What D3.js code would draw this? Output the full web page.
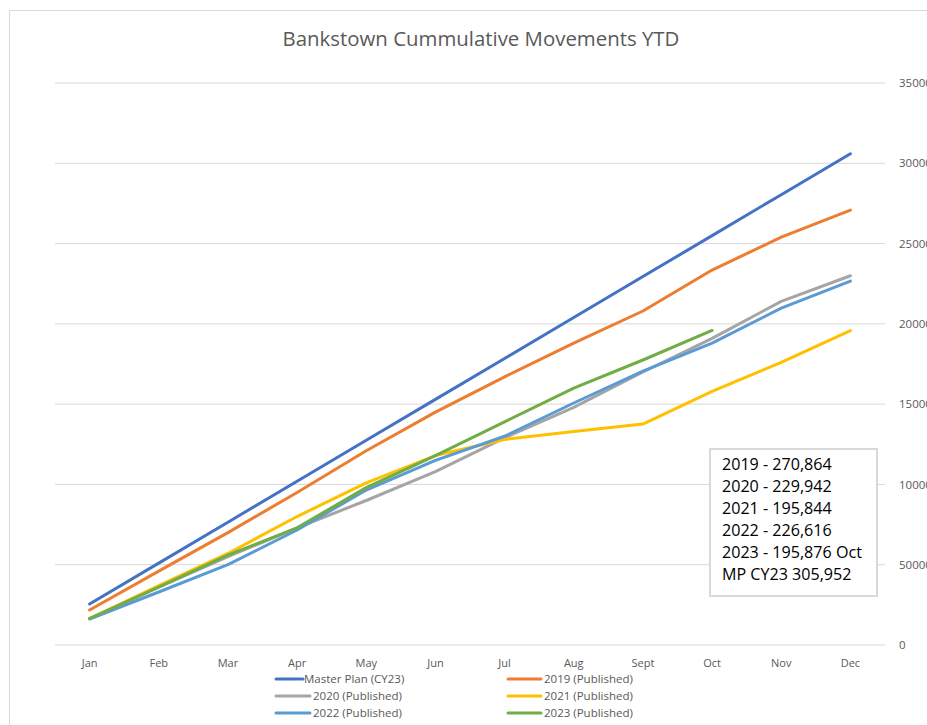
<!DOCTYPE html>
<html><head><meta charset="utf-8">
<script src="https://cdn.jsdelivr.net/npm/d3@7/dist/d3.min.js"></script>
<style>body{margin:0;background:#fff;overflow:hidden}svg{display:block}</style>
</head><body>
<svg id="c" width="927" height="725"></svg>
<script>
const months = ["Jan","Feb","Mar","Apr","May","Jun","Jul","Aug","Sept","Oct","Nov","Dec"];
const yTicks = [0,50000,100000,150000,200000,250000,300000,350000];
const masterPlan = [25496,50992,76488,101984,127480,152976,178472,203968,229464,254960,280456,305952];
const y2019 = [21800,46000,70000,95000,121000,145000,167000,188000,208000,233500,254000,270864];
const y2020 = [16500,36000,55000,73000,90000,108000,129000,148000,170000,191000,214000,229942];
const y2021 = [16500,37000,57000,80000,101000,118000,128000,133000,137600,158000,176000,195844];
const y2022 = [16200,33000,50000,71600,96500,115000,130000,150700,170600,188000,209800,226616];
const y2023 = [16500,36000,56000,73000,98000,118000,139000,160000,177500,195876];
const seriesNames = ["Master Plan (CY23)","2019 (Published)","2020 (Published)","2021 (Published)","2022 (Published)","2023 (Published)"];
const seriesColors = ["#4472C4","#ED7D31","#A5A5A5","#FFC000","#5B9BD5","#70AD47"];
const seriesData = [masterPlan,y2019,y2020,y2021,y2022,y2023];
const noteLines = ["2019 - 270,864","2020 - 229,942","2021 - 195,844","2022 - 226,616","2023 - 195,876 Oct","MP CY23 305,952"];
const title = "Bankstown Cummulative Movements YTD";

const svg = d3.select("#c");
const FONT = "'Open Sans', 'Liberation Sans', sans-serif";
svg.append("rect").attr("x",9.5).attr("y",10.5).attr("width",1000).attr("height",1000)
  .attr("fill","#fff").attr("stroke","#d9d9d9").attr("stroke-width",1);

const x = d3.scaleBand().domain(months).range([55,885]);
const y = d3.scaleLinear().domain([0,350000]).range([645,83]);

svg.append("g").selectAll("line").data(yTicks).join("line")
  .attr("x1",55).attr("x2",885).attr("y1",d=>y(d)).attr("y2",d=>y(d))
  .attr("stroke","#d9d9d9").attr("stroke-width",1);

const yAxis = d3.axisRight(y).tickValues(yTicks).tickSize(0).tickPadding(14).tickFormat(d=>String(d));
const ya = svg.append("g").attr("transform","translate(885,0)").call(yAxis);
ya.select(".domain").remove();
ya.selectAll("text").attr("fill","#595959").attr("font-size","11.5px").attr("font-family",FONT);

const xAxis = d3.axisBottom(x).tickSize(0).tickPadding(14);
const xa = svg.append("g").attr("transform","translate(0,645)").call(xAxis);
xa.select(".domain").remove();
xa.selectAll("text").attr("fill","#595959").attr("font-size","11px").attr("font-family",FONT);

const line = d3.line().x((d,i)=>x(months[i])+x.bandwidth()/2).y(d=>y(d));
seriesData.forEach((s,i)=>{
  svg.append("path").datum(s).attr("d",line).attr("fill","none")
    .attr("stroke",seriesColors[i]).attr("stroke-width",3).attr("stroke-linejoin","round").attr("stroke-linecap","round");
});

const t = svg.append("text").attr("x",481).attr("y",46).attr("text-anchor","middle")
  .attr("fill","#595959").attr("font-family",FONT).attr("font-size","17px").text(title);
function fit(sel,w){const l=sel.node().getComputedTextLength();const fs=parseFloat(sel.attr("font-size"));sel.attr("font-size",(fs*w/l)+"px");}
fit(t,397);

svg.append("rect").attr("x",710).attr("y",449).attr("width",167).attr("height",147)
  .attr("fill","#fff").attr("stroke","#d9d9d9").attr("stroke-width",2);
const nb = svg.append("g");
noteLines.forEach((s,i)=>{
  const tt = nb.append("text").attr("x",722).attr("y",470+i*22).attr("fill","#000")
    .attr("font-family",FONT).attr("font-size","14px").text(s);
  if(i===4) fit(tt,140);
});
const fsNote = nb.selectAll("text").filter((d,i)=>i===4).attr("font-size");
nb.selectAll("text").attr("font-size",fsNote);

const legPos = [[276,303,304,683],[508,541,544,683],[276,310,313,700],[508,541,544,700],[276,310,313,717],[508,541,544,717]];
seriesNames.forEach((n,i)=>{
  const p = legPos[i];
  svg.append("line").attr("x1",p[0]).attr("x2",p[1]).attr("y1",p[3]-4).attr("y2",p[3]-4)
    .attr("stroke",seriesColors[i]).attr("stroke-width",3).attr("stroke-linecap","round");
  svg.append("text").attr("x",p[2]).attr("y",p[3]).attr("fill","#595959")
    .attr("font-family",FONT).attr("font-size","11.5px").text(n);
});
</script>
</body></html>
